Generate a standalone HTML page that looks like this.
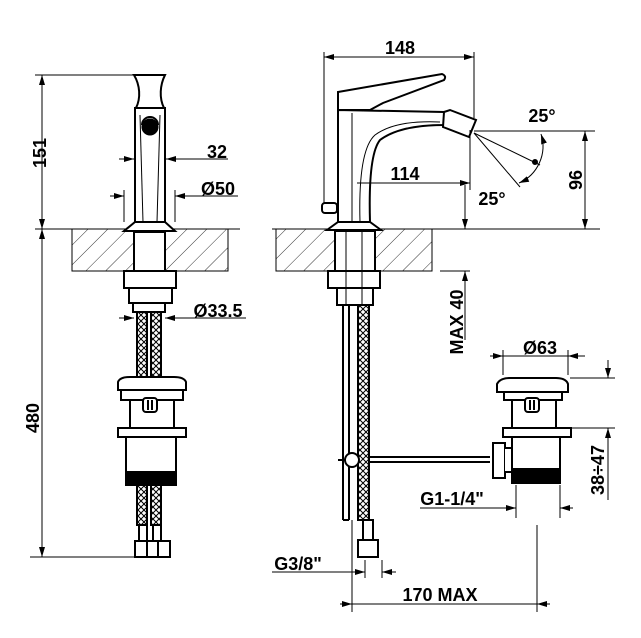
<!DOCTYPE html>
<html><head><style>
html,body{margin:0;padding:0;background:#fff;}
svg{display:block;}
text{font-family:"Liberation Sans",Arial,sans-serif;font-weight:bold;font-size:18px;fill:#000;}
</style></head><body>
<svg width="641" height="638" viewBox="0 0 641 638" xmlns="http://www.w3.org/2000/svg">
<defs>
<pattern id="h" width="14" height="14" patternUnits="userSpaceOnUse" patternTransform="rotate(45)">
<line x1="0" y1="0" x2="0" y2="14" stroke="#000" stroke-width="0.8"/>
</pattern>
<marker id="a" viewBox="0 0 10 6" refX="10" refY="3" markerWidth="10" markerHeight="6" orient="auto-start-reverse" markerUnits="userSpaceOnUse">
<path d="M0,0 L10,3 L0,6 z" fill="#000"/>
</marker>
<pattern id="br" width="6" height="6" patternUnits="userSpaceOnUse">
<path d="M0,0 L6,6 M6,0 L0,6" stroke="#000" stroke-width="1"/>
</pattern>
</defs>
<g stroke="#000" fill="none" stroke-width="1">
<line x1="35" y1="229" x2="240" y2="229"/>
<line x1="272" y1="229" x2="600" y2="229"/>
<rect x="72" y="229" width="156" height="42" fill="url(#h)"/>
<rect x="276" y="229" width="156" height="42" fill="url(#h)"/>
<line x1="35" y1="75" x2="165" y2="75"/>
<line x1="42" y1="75" x2="42" y2="229" marker-start="url(#a)" marker-end="url(#a)"/>
<line x1="42" y1="229" x2="42" y2="557" marker-start="url(#a)" marker-end="url(#a)"/>
<line x1="30" y1="557" x2="140" y2="557"/>

<g stroke-width="2" fill="#fff">
<path d="M134,75 L165,75 C160,85 159,98 164,108 L136,108 C141,98 140,85 134,75 Z"/>
<rect x="135" y="108" width="30" height="114"/>
<path d="M135,222 L165,222 L175,231 L124,231 Z"/>
<rect x="134" y="232" width="31" height="39"/>
<rect x="124" y="271" width="52" height="17"/>
<rect x="129" y="288" width="43" height="15"/>
<rect x="133" y="303" width="32" height="9"/>
</g>
<circle cx="150" cy="127" r="8" fill="#000"/>
<path d="M142,125 A8,8 0 0 1 158,125" stroke-width="2"/>
<line x1="140" y1="115" x2="143" y2="222"/><line x1="160" y1="115" x2="157" y2="222"/>
<rect x="137" y="312" width="10" height="65" fill="url(#br)" stroke-width="2"/>
<rect x="151" y="312" width="10" height="65" fill="url(#br)" stroke-width="2"/>
<rect x="137" y="485" width="10" height="40" fill="url(#br)" stroke-width="2"/>
<rect x="151" y="485" width="10" height="40" fill="url(#br)" stroke-width="2"/>
<g stroke-width="2" fill="#fff">
<rect x="139" y="525" width="8" height="16"/><rect x="153" y="525" width="8" height="16"/>
<rect x="135" y="541" width="35" height="16"/>
<line x1="147" y1="541" x2="147" y2="557"/><line x1="158" y1="541" x2="158" y2="557"/>
<path d="M118,390 L118,382 Q120,377 130,377 L174,377 Q184,377 186,382 L186,390 Z"/>
<rect x="121" y="390" width="62" height="10"/>
<rect x="130" y="400" width="44" height="28"/>
<rect x="118" y="428" width="68" height="9"/>
<rect x="126" y="437" width="50" height="35"/>
<rect x="126" y="472" width="50" height="13" fill="#000"/>
<rect x="143" y="398" width="14" height="14" rx="3"/>
</g>
<line x1="148" y1="400" x2="148" y2="410" stroke-width="2"/><line x1="152" y1="400" x2="152" y2="410" stroke-width="2"/>
<line x1="119" y1="159" x2="134" y2="159" marker-end="url(#a)"/>
<line x1="228" y1="159" x2="166" y2="159" marker-end="url(#a)"/>
<line x1="124" y1="190" x2="124" y2="222"/><line x1="175" y1="190" x2="175" y2="222"/>
<line x1="110" y1="196" x2="124" y2="196" marker-end="url(#a)"/>
<line x1="238" y1="196" x2="175" y2="196" marker-end="url(#a)"/>
<line x1="119" y1="318" x2="134" y2="318" marker-end="url(#a)"/>
<line x1="246" y1="318" x2="165" y2="318" marker-end="url(#a)"/>

<line x1="324" y1="52" x2="324" y2="210"/>
<line x1="474" y1="52" x2="474" y2="118"/>
<line x1="324" y1="57" x2="474" y2="57" marker-start="url(#a)" marker-end="url(#a)"/>
<g stroke-width="2" fill="#fff">
<path d="M338,92 L442,74 Q447,76 444,80 L383,103 L370,110 L338,110 Z"/>
<path d="M338,110 L444,112 L444,125 Q400,125 380,140 Q368,155 370,222 L338,222 Z"/>
<path d="M444,112 L450,110 L476,120 L469,137 L443,127 Z"/>
<path d="M338,222 L370,222 L381,230 L327,230 Z"/>
<rect x="335" y="231" width="40" height="40"/>
<rect x="328" y="271" width="52" height="17"/>
<rect x="337" y="288" width="36" height="17"/>
<rect x="322" y="203" width="15" height="10" rx="3"/>
</g>
<path d="M360,222 Q358,150 375,135 Q395,120 440,122" stroke-width="1"/>
<line x1="352" y1="113" x2="352" y2="222"/>
<line x1="346" y1="232" x2="346" y2="305"/><line x1="362" y1="232" x2="362" y2="305"/>
<line x1="357" y1="183" x2="470" y2="183" marker-end="url(#a)"/>
<line x1="470" y1="130" x2="470" y2="190"/>
<line x1="474" y1="131" x2="595" y2="131"/>
<line x1="585" y1="131" x2="585" y2="229" marker-start="url(#a)" marker-end="url(#a)"/>
<line x1="474" y1="133" x2="540" y2="165"/>
<line x1="474" y1="133" x2="520" y2="187"/>
<path d="M541,134 A40,40 0 0 1 519,183" marker-start="url(#a)" marker-end="url(#a)"/>
<circle cx="535" cy="162" r="2.5" fill="#000"/>
<line x1="465" y1="185" x2="465" y2="229" marker-end="url(#a)"/>
<line x1="440" y1="271" x2="470" y2="271"/>
<line x1="465" y1="340" x2="465" y2="271" marker-end="url(#a)"/>
<line x1="343" y1="305" x2="343" y2="520" stroke-width="2"/>
<line x1="349" y1="305" x2="349" y2="520" stroke-width="2"/>
<line x1="343" y1="520" x2="349" y2="520" stroke-width="2"/>
<rect x="358" y="305" width="11" height="215" fill="url(#br)" stroke-width="2"/>
<g stroke-width="2" fill="#fff">
<rect x="363" y="520" width="10" height="20"/>
<rect x="358" y="540" width="20" height="17"/>
</g>
<line x1="370" y1="457" x2="490" y2="457" stroke-width="2"/>
<line x1="370" y1="462" x2="490" y2="462" stroke-width="2"/>
<circle cx="352" cy="460" r="7" fill="#fff" stroke-width="2"/>
<line x1="338" y1="460" x2="345" y2="460" stroke-width="2"/>
<g stroke-width="2" fill="#fff">
<path d="M497,392 L497,384 Q500,378 510,378 L556,378 Q566,378 568,384 L568,392 Z"/>
<rect x="504" y="392" width="58" height="8"/>
<rect x="512" y="400" width="44" height="28"/>
<rect x="503" y="428" width="68" height="9"/>
<rect x="512" y="437" width="48" height="32"/>
<rect x="512" y="469" width="48" height="14" fill="#000"/>
<rect x="493" y="443" width="12" height="35"/>
<path d="M505,448 L512,448 L512,472 L505,472"/>
<rect x="525" y="398" width="14" height="14" rx="3"/>
</g>
<line x1="530" y1="400" x2="530" y2="410" stroke-width="2"/><line x1="534" y1="400" x2="534" y2="410" stroke-width="2"/>
<line x1="503" y1="350" x2="503" y2="375"/><line x1="568" y1="350" x2="568" y2="375"/>
<line x1="490" y1="356" x2="503" y2="356" marker-end="url(#a)"/>
<line x1="585" y1="356" x2="568" y2="356" marker-end="url(#a)"/>
<line x1="503" y1="356" x2="568" y2="356"/>
<line x1="570" y1="378" x2="615" y2="378"/><line x1="570" y1="428" x2="615" y2="428"/>
<line x1="608" y1="360" x2="608" y2="378" marker-end="url(#a)"/>
<line x1="608" y1="440" x2="608" y2="428" marker-end="url(#a)"/>
<line x1="608" y1="440" x2="608" y2="500"/>
<line x1="516" y1="485" x2="516" y2="518"/><line x1="560" y1="485" x2="560" y2="518"/>
<line x1="420" y1="508" x2="516" y2="508" marker-end="url(#a)"/>
<line x1="573" y1="508" x2="560" y2="508" marker-end="url(#a)"/>
<line x1="365" y1="560" x2="365" y2="578"/><line x1="382" y1="560" x2="382" y2="578"/>
<line x1="272" y1="572" x2="365" y2="572" marker-end="url(#a)"/>
<line x1="396" y1="572" x2="382" y2="572" marker-end="url(#a)"/>
<line x1="352" y1="520" x2="352" y2="612"/>
<line x1="537" y1="525" x2="537" y2="612"/>
<line x1="340" y1="604" x2="352" y2="604" marker-end="url(#a)"/>
<line x1="352" y1="604" x2="537" y2="604"/>
<line x1="550" y1="604" x2="537" y2="604" marker-end="url(#a)"/>
</g>
<text x="40" y="153" text-anchor="middle" transform="rotate(-90 40 153)" dy="6">151</text>
<text x="33" y="418" text-anchor="middle" transform="rotate(-90 33 418)" dy="6">480</text>
<text x="217" y="158" text-anchor="middle">32</text>
<text x="218" y="195" text-anchor="middle">Ø50</text>
<text x="218" y="317" text-anchor="middle">Ø33.5</text>
<text x="400" y="54" text-anchor="middle">148</text>
<text x="405" y="180" text-anchor="middle">114</text>
<text x="542" y="122" text-anchor="middle">25°</text>
<text x="492" y="205" text-anchor="middle">25°</text>
<text x="576" y="180" text-anchor="middle" transform="rotate(-90 576 180)" dy="6">96</text>
<text x="457" y="322" text-anchor="middle" transform="rotate(-90 457 322)" dy="6">MAX 40</text>
<text x="540" y="354" text-anchor="middle">Ø63</text>
<text x="598" y="470" text-anchor="middle" transform="rotate(-90 598 470)" dy="6">38÷47</text>
<text x="452" y="505" text-anchor="middle">G1-1/4"</text>
<text x="298" y="570" text-anchor="middle">G3/8"</text>
<text x="440" y="601" text-anchor="middle">170 MAX</text>
</svg>
</body></html>
